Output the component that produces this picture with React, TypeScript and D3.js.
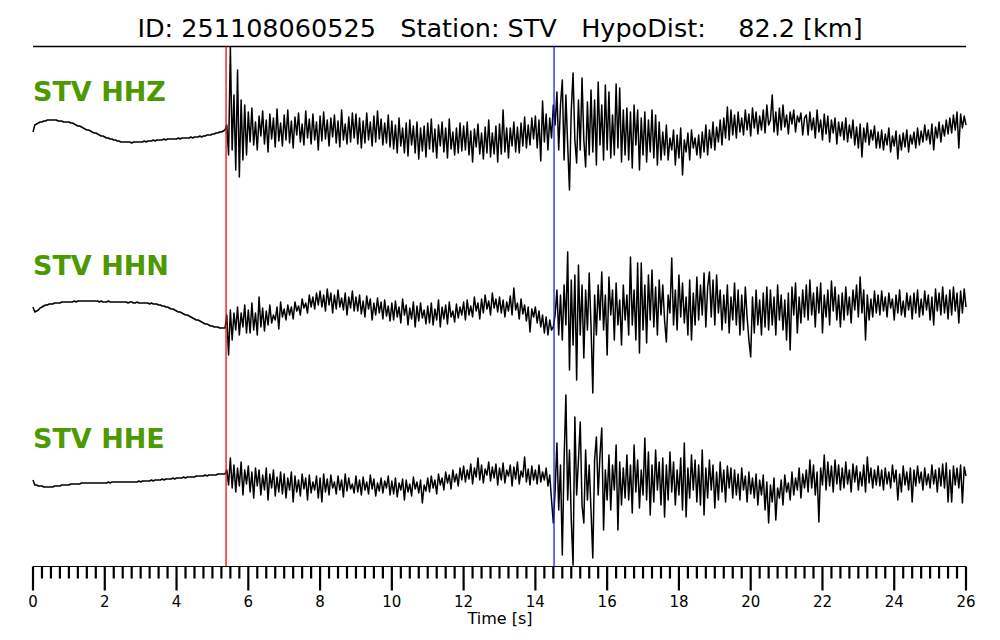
import React from "react";
import * as d3 from "d3";

const TITLE = "ID: 251108060525   Station: STV   HypoDist:    82.2 [km]";
const CHANNELS = ["STV HHZ", "STV HHN", "STV HHE"];
const SAMPLE_RATE = 20; // samples per second
const P_PICK = 5.38;
const S_PICK = 14.52;
const T_MAX = 26;
const MAJOR_TICKS = [0, 2, 4, 6, 8, 10, 12, 14, 16, 18, 20, 22, 24, 26];

const HHZ = [
  -2,5,6,7,8,8,9,9,10,10,
  10,10,10,10,9,9,9,8,8,8,
  8,7,7,6,5,4,4,3,2,1,
  0,0,-1,-2,-3,-3,-4,-5,-6,-6,
  -7,-8,-8,-9,-9,-10,-10,-11,-11,-12,
  -12,-12,-12,-12,-12,-13,-12,-12,-12,-12,
  -12,-12,-11,-12,-11,-11,-11,-10,-11,-10,
  -10,-10,-10,-9,-10,-9,-9,-9,-9,-9,
  -9,-8,-9,-8,-8,-8,-8,-8,-7,-8,
  -7,-7,-7,-6,-7,-6,-6,-5,-5,-5,
  -4,-4,-3,-3,-2,-2,-1,0,
  5,-25,83,-20,35,-40,60,-47,30,-30,25,-25,
  18,-12,22,-15,8,-20,14,-6,19,-14,10,-22,16,-9,12,-17,21,-11,7,-16,
  15,-10,20,-13,9,-18,13,-5,17,-12,6,-15,19,-8,11,-14,16,-10,8,-20,
  14,-11,18,-9,10,-16,12,-7,15,-13,9,-17,20,-10,6,-14,13,-12,17,-8,
  16,-14,12,-18,9,-13,17,-10,8,-16,14,-12,19,-9,11,-15,7,-13,15,-17,
  9,-19,5,-23,12,-16,2,-23,7,-26,10,-15,4,-23,8,-29,2,-21,4,-27,
  7,-19,11,-22,1,-28,5,-16,8,-22,2,-28,11,-19,-2,-25,2,-23,7,-21,
  4,-20,8,-25,-1,-32,1,-17,6,-24,-3,-29,3,-23,10,-27,-3,-24,4,-32,
  6,-24,20,-22,2,-28,2,-16,8,-22,3,-23,7,-16,13,-18,5,-15,12,-9,
  14,-18,10,-31,29,-12,16,-20,12,-8,25,
  5,38,-20,25,50,-30,35,-15,-60,20,57,-10,-33,30,-20,52,-10,-37,28,-25,
  40,-22,30,-35,48,-15,25,-30,45,-20,38,-28,15,-25,46,-18,42,-32,20,-25,
  22,-30,18,-38,25,-15,20,-40,12,-25,18,-32,10,-22,20,-28,15,-35,8,-30,
  -2,-25,5,-30,-8,-20,0,-35,-5,-28,2,-45,-10,-22,-3,-30,0,-18,-8,-25,
  -5,-28,-2,-22,5,-25,0,-18,8,-20,3,-12,10,-15,12,-8,23,-10,20,-5,
  15,-8,18,-2,12,-5,20,0,16,-6,22,2,18,-4,14,0,20,-3,25,5,
  10,35,-2,18,-5,22,0,25,3,15,-4,18,6,20,-2,14,8,17,-5,12,
  15,-5,18,0,12,-8,20,-2,10,-10,16,-4,14,-12,10,-3,12,-14,8,-6,
  8,-10,12,-12,5,-8,10,-15,3,-18,6,-27,2,-12,7,-15,0,-10,4,-18,
  -2,-18,0,-20,-4,-15,2,-22,-6,-16,-1,-29,-5,-20,-3,-17,0,-22,-5,-14,
  -2,-18,2,-15,-1,-12,5,-10,0,-14,6,-20,3,-8,8,-12,5,-6,10,-4,
  12,-3,15,0,18,-18,16,2,14,5,
];

const HHN = [
  -2,-7,-6,-5,-3,-2,-1,0,0,1,
  1,1,2,2,2,2,3,3,3,3,
  3,3,3,4,3,4,4,4,4,4,
  4,4,4,4,4,4,4,3,4,3,
  3,3,4,3,3,3,3,3,3,3,
  3,3,3,2,3,3,2,2,3,2,
  2,2,2,2,2,1,2,1,1,1,
  0,0,-1,-1,-2,-2,-3,-4,-4,-5,
  -6,-7,-7,-8,-9,-10,-10,-11,-12,-13,
  -14,-15,-15,-16,-17,-18,-19,-19,-20,-21,
  -21,-22,-22,-22,-23,-23,-23,-23,
  -10,-50,-5,-35,-8,-25,-2,-30,-8,-22,0,-28,
  -5,-28,2,-25,-8,-30,8,-22,-3,-26,-6,-20,0,-18,-10,-15,-2,-24,3,-12,
  -4,-15,0,-10,-2,-14,3,-6,-1,-10,6,-3,2,-8,10,-2,8,-4,12,0,
  14,-2,10,-6,16,0,12,-8,10,-4,15,-2,7,-5,12,-10,8,-3,14,-6,
  8,-6,10,-9,4,-12,9,-4,6,-15,2,-10,7,-8,3,-14,5,-11,-1,-16,
  2,-15,4,-12,-2,-18,6,-10,0,-20,-3,-14,3,-22,-1,-16,2,-13,-5,-19,
  -1,-18,2,-20,-4,-15,5,-22,-2,-14,0,-19,3,-12,-6,-17,1,-13,-2,-10,
  3,-15,5,-10,-1,-12,8,-6,2,-14,6,-8,10,-4,4,-10,12,-3,6,-7,
  8,-8,5,-12,3,-6,9,-10,17,-5,2,-14,6,-9,0,-16,-2,-27,-4,-12,
  -2,-18,-6,-22,-10,-28,-12,-30,-15,-25,-22,
  -10,15,-30,10,-35,20,-20,53,-65,25,-40,30,-75,40,-30,20,-53,15,-25,32,
  -20,-88,10,-30,20,-15,33,-25,10,-50,28,-10,15,-35,22,-20,5,-40,20,-15,
  10,-30,48,-20,15,-35,42,-48,42,-25,20,-38,30,-15,35,-22,18,-30,25,-10,
  20,-15,-37,10,-8,47,-20,15,-25,30,-12,22,-18,8,-30,25,-35,12,-20,28,
  -15,20,-10,32,-22,18,33,-12,25,-20,30,-8,15,-25,10,-18,20,-28,8,-15,
  22,-20,15,-30,10,-25,18,-12,-35,-52,8,-28,15,-20,5,-30,12,-22,18,-25,
  15,-20,8,-30,20,-15,10,-25,5,-35,12,-45,18,-10,22,-28,8,-18,15,-12,
  20,-15,25,-10,12,-22,18,-8,22,-28,10,-12,15,-20,24,-6,18,-15,10,-22,
  12,-15,18,-10,8,-18,15,-5,20,-12,28,-8,15,-35,10,-15,6,-12,14,-8,
  10,-10,14,-6,8,-12,12,-3,6,-15,10,-8,15,-10,4,-12,12,-5,9,-14,
  12,-8,15,-12,6,-10,14,-5,10,-15,8,-20,16,-6,12,-10,18,-8,10,-14,
  15,-10,18,-6,12,-18,14,-8,16,-2,
];

const HHE = [
  0,-5,-5,-6,-6,-6,-7,-7,-7,-7,
  -7,-7,-6,-6,-6,-6,-5,-5,-5,-5,
  -5,-4,-4,-4,-4,-4,-4,-3,-3,-3,
  -3,-3,-3,-3,-3,-3,-3,-3,-3,-3,
  -3,-3,-2,-3,-2,-2,-2,-2,-2,-2,
  -2,-2,-2,-2,-2,-2,-2,-2,-2,-1,
  -2,-1,-1,-1,-1,-1,0,-1,0,0,
  0,0,1,0,1,1,1,1,2,1,
  2,2,2,2,3,2,3,3,3,3,
  3,4,4,4,4,4,5,4,5,5,
  5,5,5,6,6,6,6,6,
  10,-5,22,-8,15,-12,12,-6,18,-15,10,-4,
  14,-12,8,-18,12,-6,10,-15,5,-10,12,-20,6,-8,10,-16,3,-12,8,-14,
  6,-18,2,-10,8,-22,4,-12,0,-16,6,-9,2,-20,5,-13,-2,-10,4,-18,
  2,-22,6,-12,1,-15,5,-8,-2,-14,4,-10,0,-17,6,-11,2,-9,-4,-13,
  4,-12,0,-15,3,-10,-2,-14,5,-9,1,-16,-3,-11,2,-13,-1,-8,4,-15,
  -1,-14,2,-17,-3,-10,1,-20,0,-12,-4,-16,3,-9,-2,-13,0,-23,-5,-11,
  2,-12,4,-8,0,-14,6,-5,2,-10,8,-3,5,-9,10,-2,6,-6,12,0,
  14,-2,10,1,16,-4,12,3,22,0,15,-3,11,5,18,-1,13,2,16,-5,
  12,0,17,-3,10,4,15,-6,13,1,18,-4,9,3,23,-2,11,-5,14,0,
  10,-4,15,-2,8,0,12,-6,5,-20,-43,
  -10,37,-30,15,-75,20,85,-20,30,-40,-85,63,-15,20,58,-25,-43,30,-20,15,
  -30,-78,20,43,-15,25,52,-50,10,-20,25,-30,15,-10,35,-50,18,-25,12,-18,
  25,-20,15,-33,35,-12,20,-28,10,-15,42,-20,28,-35,15,-22,30,-10,18,-25,
  22,-37,15,-20,28,-12,18,-25,10,-15,22,-30,37,-37,12,-18,25,-10,20,-22,
  15,-25,30,-35,12,-18,20,-10,15,-28,8,-20,18,-12,10,-22,14,-8,12,-18,
  10,-15,6,-20,12,-10,4,-22,8,-14,2,-18,6,-25,0,-15,5,-30,-2,-43,
  -5,-22,2,-40,-8,-18,0,-25,5,-12,-3,-20,8,-15,2,-10,12,-18,6,-8,
  10,-12,20,-8,15,-15,8,-42,12,-5,25,-10,18,-6,14,-12,20,-4,15,-10,
  12,-8,18,-4,10,-12,16,-2,14,-10,8,-6,15,-12,23,-3,12,-8,10,-5,
  14,-6,10,-10,12,-4,8,-8,15,-2,10,-20,6,-12,14,-5,8,-10,12,-22,
  10,-6,14,-3,8,-10,12,-5,6,-8,15,-4,10,-12,12,-6,16,-8,17,-22,
  10,-22,14,-5,12,-8,15,-23,13,4,
];

const TRACES = [HHZ, HHN, HHE];

const W = 1000;
const H = 640;
const LEFT = 33;
const RIGHT = 966;
const TOP_LINE = 46.5;
const AXIS_Y = 566.5;
const TRACE_CENTERS = [130, 305, 480];
const LABEL_BASELINES = [101, 275, 448];
const FONT = "'DejaVu Sans', 'Liberation Sans', sans-serif";
const GREEN = "#4c9900";

export default function App() {
  const x = d3.scaleLinear().domain([0, T_MAX]).range([LEFT, RIGHT]);
  const minorTicks = d3.range(0, T_MAX + 0.001, 0.25).filter(
    (t) => !MAJOR_TICKS.some((m) => Math.abs(m - t) < 1e-6)
  );

  const paths = TRACES.map((arr, k) => {
    const y = d3
      .scaleLinear()
      .domain([-100, 100])
      .range([TRACE_CENTERS[k] + 100, TRACE_CENTERS[k] - 100]);
    const line = d3
      .line<number>()
      .x((_, i) => x(i / SAMPLE_RATE))
      .y((v) => y(v));
    return line(arr) || "";
  });

  return (
    <svg
      width={W}
      height={H}
      viewBox={`0 0 ${W} ${H}`}
      style={{ position: "absolute", left: 0, top: 0, background: "#fff" }}
      fontFamily={FONT}
    >
      <rect x={0} y={0} width={W} height={H} fill="#fff" />
      <text
        x={500}
        y={37}
        textAnchor="middle"
        fontSize={25.5}
        fill="#000"
        style={{ whiteSpace: "pre" }}
      >
        {TITLE}
      </text>
      <line x1={LEFT} x2={RIGHT} y1={TOP_LINE} y2={TOP_LINE} stroke="#000" strokeWidth={1.5} />

      {paths.map((d, k) => (
        <path key={k} d={d} fill="none" stroke="#000" strokeWidth={1.5} strokeLinejoin="round" />
      ))}

      {CHANNELS.map((c, k) => (
        <text
          key={c}
          x={LEFT}
          y={LABEL_BASELINES[k]}
          fontSize={27}
          fontWeight="bold"
          fill={GREEN}
        >
          {c}
        </text>
      ))}

      <line x1={x(P_PICK)} x2={x(P_PICK)} y1={TOP_LINE} y2={AXIS_Y} stroke="#ff0000" strokeWidth={1.3} />
      <line x1={x(S_PICK)} x2={x(S_PICK)} y1={TOP_LINE} y2={AXIS_Y} stroke="#1a1aff" strokeWidth={1.3} />

      <line x1={LEFT} x2={RIGHT} y1={AXIS_Y} y2={AXIS_Y} stroke="#000" strokeWidth={1} />
      {minorTicks.map((t) => (
        <line key={"m" + t} x1={x(t)} x2={x(t)} y1={AXIS_Y} y2={AXIS_Y + 12} stroke="#000" strokeWidth={2.2} />
      ))}
      {MAJOR_TICKS.map((t) => (
        <g key={"M" + t}>
          <line x1={x(t)} x2={x(t)} y1={AXIS_Y} y2={AXIS_Y + 24} stroke="#000" strokeWidth={2.2} />
          <text x={x(t)} y={607} textAnchor="middle" fontSize={15} fill="#000">
            {t}
          </text>
        </g>
      ))}
      <text x={500} y={624} textAnchor="middle" fontSize={16} fill="#000">
        Time [s]
      </text>
    </svg>
  );
}
